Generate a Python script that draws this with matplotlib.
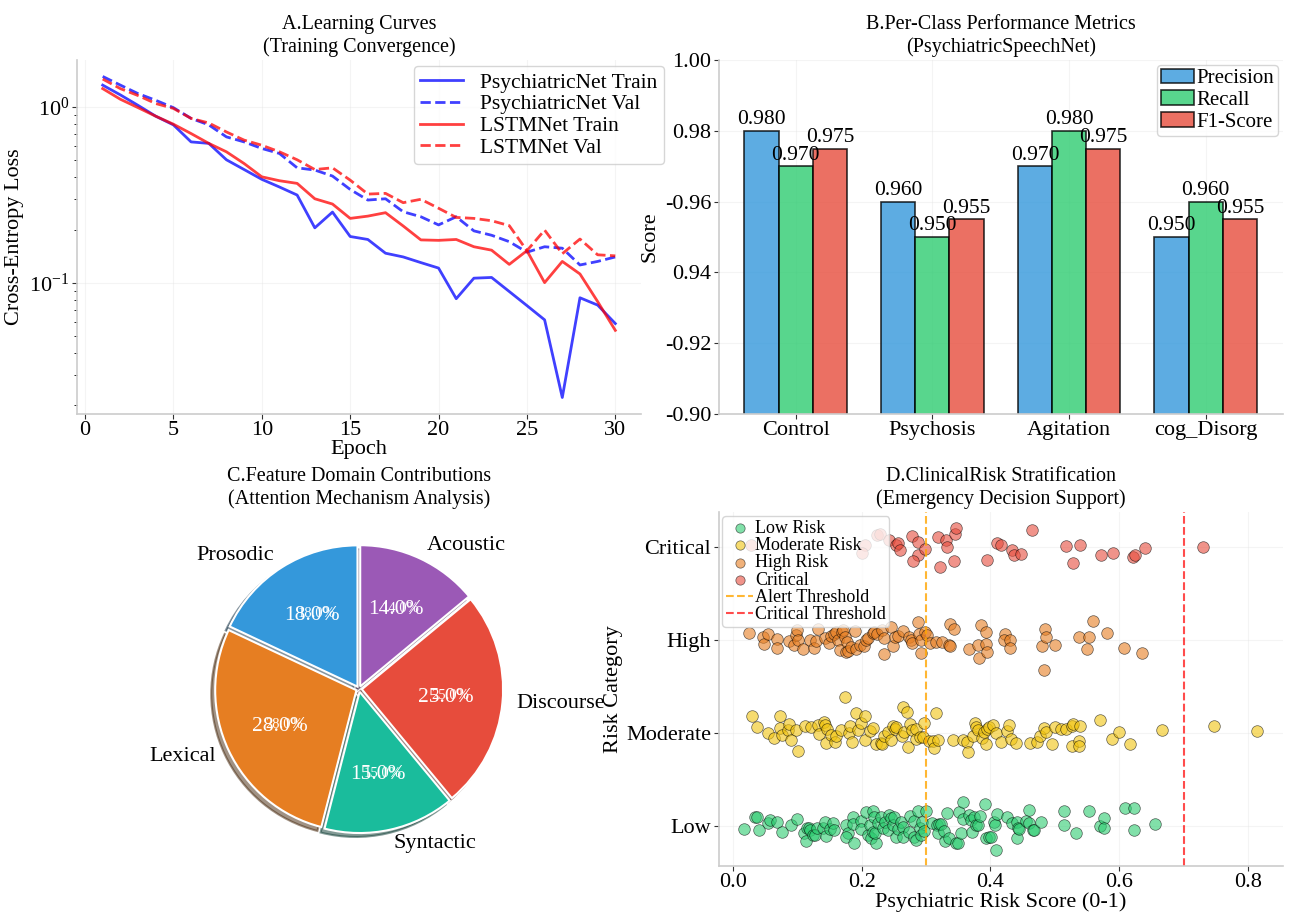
import matplotlib.pyplot as plt
import numpy as np

plt.rcParams['font.family'] = ['Liberation Serif', 'DejaVu Serif']
plt.rcParams['mathtext.fontset'] = 'custom'
plt.rcParams['mathtext.rm'] = 'Liberation Serif'
plt.rcParams['axes.unicode_minus'] = False

# %% data - A. learning curves
epochs = list(range(1, 31))
psy_train = [1.33, 1.17, 1.02, 0.885, 0.79, 0.632, 0.62, 0.50, 0.44, 0.387,
             0.35, 0.315, 0.205, 0.252, 0.183, 0.176, 0.147, 0.14, 0.13, 0.121,
             0.081, 0.106, 0.107, 0.089, 0.074, 0.0614, 0.0222, 0.082, 0.0745, 0.0585]
psy_val = [1.49, 1.33, 1.19, 1.09, 0.99, 0.86, 0.79, 0.675, 0.632, 0.58,
           0.543, 0.45, 0.437, 0.404, 0.339, 0.295, 0.30, 0.253, 0.237, 0.213,
           0.237, 0.197, 0.186, 0.171, 0.149, 0.16, 0.157, 0.126, 0.132, 0.14]
lstm_train = [1.27, 1.105, 0.99, 0.885, 0.797, 0.705, 0.62, 0.555, 0.476, 0.40,
              0.38, 0.367, 0.30, 0.28, 0.232, 0.239, 0.25, 0.21, 0.175, 0.174,
              0.176, 0.16, 0.153, 0.127, 0.152, 0.10, 0.132, 0.112, 0.078, 0.0535]
lstm_val = [1.44, 1.27, 1.16, 1.045, 0.98, 0.86, 0.81, 0.72, 0.647, 0.605,
            0.555, 0.50, 0.44, 0.45, 0.383, 0.319, 0.322, 0.285, 0.298, 0.265,
            0.235, 0.232, 0.225, 0.211, 0.152, 0.199, 0.146, 0.177, 0.144, 0.142]

# %% data - B. per-class metrics
classes = ['Control', 'Psychosis', 'Agitation', 'cog_Disorg']
precision = [0.980, 0.960, 0.970, 0.950]
recall = [0.970, 0.950, 0.980, 0.960]
f1_score = [0.975, 0.955, 0.975, 0.955]
score_ticks = [0.90, 0.92, 0.94, 0.96, 0.98, 1.00]
score_ticklabels = ['-0.90', '-0.92', '0.94', '-0.96', '0.98', '1.00']

# %% data - C. feature domains
domains = ['Prosodic', 'Lexical', 'Syntactic', 'Discourse', 'Acoustic']
domain_share = [18, 28, 15, 25, 14]
domain_colors = ['#3498db', '#e67e22', '#1abc9c', '#e74c3c', '#9b59b6']

# %% data - D. risk stratification (score, vertical jitter)
risk_levels = ['Low', 'Moderate', 'High', 'Critical']
low_score = [0.018, 0.035, 0.038, 0.04, 0.054, 0.058, 0.069, 0.077, 0.091, 0.1,
             0.11, 0.113, 0.115, 0.118, 0.12, 0.125, 0.128, 0.13, 0.14, 0.143,
             0.144, 0.151, 0.156, 0.157, 0.175, 0.179, 0.176, 0.187, 0.188, 0.186,
             0.199, 0.199, 0.207, 0.21, 0.213, 0.215, 0.218, 0.218, 0.22, 0.223,
             0.221, 0.225, 0.23, 0.233, 0.237, 0.241, 0.243, 0.246, 0.248, 0.251,
             0.254, 0.256, 0.261, 0.264, 0.265, 0.273, 0.275, 0.282, 0.282, 0.285,
             0.287, 0.29, 0.292, 0.294, 0.3, 0.297, 0.31, 0.317, 0.319, 0.32,
             0.323, 0.33, 0.328, 0.332, 0.336, 0.347, 0.349, 0.351, 0.355, 0.357,
             0.358, 0.367, 0.37, 0.372, 0.375, 0.378, 0.381, 0.384, 0.391, 0.393,
             0.398, 0.401, 0.406, 0.407, 0.409, 0.411, 0.426, 0.434, 0.442, 0.442,
             0.443, 0.445, 0.456, 0.46, 0.46, 0.466, 0.467, 0.479, 0.514, 0.515,
             0.533, 0.553, 0.57, 0.577, 0.577, 0.609, 0.623, 0.623, 0.655]
low_jit = [-0.03, 0.105, 0.095, -0.04, 0.04, 0.07, 0.05, -0.06, 0.015, 0.075,
           -0.075, -0.16, -0.02, -0.015, -0.04, -0.095, -0.095, -0.02, -0.015, 0.045,
           -0.105, -0.03, 0.04, -0.035, 0.015, -0.07, -0.12, 0.095, -0.175, 0.025,
           0.06, -0.03, 0.15, -0.095, 0.015, -0.13, 0.165, -0.06, 0.105, -0.185,
           -0.075, 0.03, 0.105, -0.015, 0.05, -0.04, 0.12, 0.085, 0.015, 0.095,
           -0.12, -0.03, 0.05, -0.005, -0.11, -0.06, 0.11, 0.06, -0.11, -0.15,
           0.16, -0.02, -0.095, 0.05, 0.165, -0.05, 0.03, 0.015, -0.07, 0.02,
           0.02, -0.16, -0.05, 0.14, -0.13, -0.185, -0.175, 0.15, -0.075, 0.26,
           0.08, 0.12, 0.07, -0.06, 0.095, 0.015, 0.015, 0.11, 0.24, -0.13,
           -0.12, -0.11, 0.05, 0.015, -0.25, 0.13, 0.095, 0.03, 0.05, -0.13,
           -0.015, -0.03, 0.06, 0.03, 0.17, -0.04, -0.045, 0.045, 0.015, 0.16,
           -0.075, 0.165, 0.005, 0.085, -0.015, 0.2, 0.2, -0.045, 0.02]
mod_score = [0.030, 0.038, 0.054, 0.064, 0.073, 0.074, 0.076, 0.085, 0.087, 0.091,
             0.098, 0.101, 0.112, 0.121, 0.132, 0.134, 0.141, 0.143, 0.145, 0.147,
             0.152, 0.158, 0.16, 0.168, 0.174, 0.18, 0.182, 0.185, 0.192, 0.194,
             0.199, 0.206, 0.206, 0.213, 0.217, 0.222, 0.23, 0.231, 0.235, 0.241,
             0.246, 0.249, 0.252, 0.254, 0.263, 0.264, 0.266, 0.271, 0.272, 0.275,
             0.278, 0.284, 0.284, 0.29, 0.295, 0.297, 0.304, 0.311, 0.313, 0.315,
             0.319, 0.342, 0.357, 0.364, 0.365, 0.373, 0.376, 0.378, 0.38, 0.387,
             0.39, 0.393, 0.395, 0.398, 0.404, 0.409, 0.416, 0.426, 0.429, 0.432,
             0.439, 0.461, 0.473, 0.477, 0.483, 0.486, 0.496, 0.501, 0.509, 0.517,
             0.526, 0.528, 0.526, 0.538, 0.538, 0.539, 0.57, 0.589, 0.6, 0.616,
             0.666, 0.747, 0.814]
mod_jit = [0.19, 0.065, 0.0, -0.05, 0.19, 0.055, -0.02, 0.03, 0.1, -0.07,
           0.035, -0.19, 0.075, 0.07, 0.09, -0.007, 0.12, 0.09, -0.11, 0.045,
           -0.02, -0.09, -0.035, 0.035, 0.39, 0.0, 0.08, -0.09, 0.215, 0.035,
           0.11, 0.18, -0.07, 0.02, 0.06, -0.12, -0.11, -0.12, -0.025, 0.01,
           -0.07, 0.08, 0.045, 0.065, -0.025, 0.28, 0.01, 0.23, -0.15, 0.1,
           0.03, -0.06, 0.045, -0.045, -0.045, 0.11, -0.08, -0.08, -0.16, 0.215,
           -0.07, -0.07, -0.07, -0.09, -0.205, -0.025, 0.11, 0.065, 0.03, -0.05,
           0.01, -0.12, 0.045, 0.07, 0.09, 0.0, -0.09, 0.02, 0.09, -0.06,
           -0.11, -0.1, -0.09, -0.025, 0.055, 0.01, -0.115, 0.07, 0.045, 0.045,
           0.08, 0.095, -0.135, -0.085, -0.14, 0.08, 0.145, -0.06, 0.01, -0.115,
           0.035, 0.075, 0.02]
high_score = [0.025, 0.047, 0.048, 0.054, 0.069, 0.068, 0.088, 0.095, 0.098, 0.1,
              0.101, 0.109, 0.12, 0.126, 0.129, 0.133, 0.143, 0.149, 0.152, 0.157,
              0.16, 0.163, 0.166, 0.169, 0.171, 0.174, 0.175, 0.177, 0.179, 0.183,
              0.189, 0.192, 0.197, 0.203, 0.207, 0.21, 0.217, 0.22, 0.224, 0.232,
              0.234, 0.234, 0.246, 0.249, 0.252, 0.257, 0.265, 0.274, 0.277, 0.279,
              0.287, 0.289, 0.292, 0.293, 0.299, 0.302, 0.306, 0.315, 0.325, 0.335,
              0.337, 0.337, 0.343, 0.366, 0.38, 0.382, 0.386, 0.393, 0.393, 0.394,
              0.423, 0.421, 0.43, 0.43, 0.48, 0.484, 0.486, 0.483, 0.501, 0.537,
              0.553, 0.55, 0.56, 0.581, 0.607, 0.636]
high_jit = [0.08, 0.03, -0.04, 0.07, 0.01, -0.08, -0.007, -0.05, 0.06, 0.11,
            0.0, -0.1, 0.0, -0.08, -0.007, 0.125, 0.02, -0.035, 0.04, 0.07,
            0.09, 0.0, -0.11, 0.09, 0.11, 0.035, -0.125, -0.02, -0.12, -0.07,
            0.1, -0.1, -0.05, -0.065, 0.0, 0.02, 0.08, 0.09, 0.07, 0.11,
            0.02, -0.15, 0.14, -0.065, 0.03, 0.05, 0.1, 0.035, 0.0, -0.035,
            0.2, 0.07, 0.0, -0.14, 0.09, 0.06, -0.035, -0.02, -0.02, -0.05,
            -0.065, 0.17, 0.125, -0.09, -0.05, -0.19, 0.16, 0.09, -0.04, -0.125,
            0.065, 0.007, 0.0, -0.08, -0.065, 0.125, 0.035, -0.32, -0.05, 0.03,
            0.03, -0.1, 0.21, 0.08, -0.08, -0.14]
crit_score = [0.028, 0.205, 0.201, 0.224, 0.228, 0.242, 0.254, 0.257, 0.26, 0.279,
              0.287, 0.287, 0.28, 0.299, 0.318, 0.331, 0.333, 0.321, 0.345, 0.347,
              0.343, 0.394, 0.411, 0.416, 0.433, 0.436, 0.448, 0.465, 0.518, 0.539,
              0.528, 0.571, 0.59, 0.621, 0.624, 0.64, 0.73]
crit_jit = [0.02, 0.025, -0.064, 0.13, 0.14, 0.08, 0.02, 0.04, -0.03, 0.12,
            0.05, -0.08, -0.15, -0.02, 0.11, 0.08, 0.0, -0.21, 0.14, 0.2,
            -0.15, -0.14, 0.04, 0.025, -0.035, -0.08, -0.07, 0.18, 0.007, 0.025,
            -0.17, -0.08, -0.064, -0.107, -0.09, -0.01, 0.0]
alert_threshold = 0.3
critical_threshold = 0.7

# %% figure
fig, axes = plt.subplots(2, 2, figsize=(12.93, 9.15), dpi=100)
fig.subplots_adjust(left=0.0596, right=0.992, bottom=0.054, top=0.934,
                    wspace=0.138, hspace=0.28)
ax_a, ax_b = axes[0]
ax_c, ax_d = axes[1]


def style_axes(ax):
    for s in ['top', 'right']:
        ax.spines[s].set_visible(False)
    for s in ['left', 'bottom']:
        ax.spines[s].set_color('#cccccc')
        ax.spines[s].set_linewidth(1.2)
    ax.grid(True, alpha=0.3, color='#dddddd')
    ax.set_axisbelow(True)
    ax.tick_params(labelsize=16, colors='#333333', labelcolor='black', pad=2)


# A. learning curves
ax_a.plot(epochs, psy_train, color='blue', alpha=0.75, lw=2, label='PsychiatricNet Train')
ax_a.plot(epochs, psy_val, color='blue', alpha=0.75, lw=2, ls='--', label='PsychiatricNet Val')
ax_a.plot(epochs, lstm_train, color='red', alpha=0.75, lw=2, label='LSTMNet Train')
ax_a.plot(epochs, lstm_val, color='red', alpha=0.75, lw=2, ls='--', label='LSTMNet Val')
ax_a.set_yscale('log')
style_axes(ax_a)
ax_a.set_xlabel('Epoch', fontsize=16, labelpad=0)
ax_a.set_ylabel('Cross-Entropy Loss', fontsize=16)
ax_a.set_title('A.Learning Curves\n(Training Convergence)', fontsize=14.5)
ax_a.legend(fontsize=15.5, loc='upper right', bbox_to_anchor=(1.045, 0.99),
            borderpad=0.3, labelspacing=0.08, handlelength=2.0, borderaxespad=0.1)

# B. per-class metrics
x = np.arange(len(classes))
w = 0.25
bars = [
    ax_b.bar(x - w, precision, w, color='#3498db', alpha=0.8, edgecolor='black', lw=1.2, label='Precision'),
    ax_b.bar(x, recall, w, color='#2ecc71', alpha=0.8, edgecolor='black', lw=1.2, label='Recall'),
    ax_b.bar(x + w, f1_score, w, color='#e74c3c', alpha=0.8, edgecolor='black', lw=1.2, label='F1-Score'),
]
for bc in bars:
    for rect in bc:
        h = rect.get_height()
        ax_b.text(rect.get_x() + rect.get_width() / 2, h + 0.0005, f'{h:.3f}',
                  ha='center', va='bottom', fontsize=15.5)
ax_b.set_ylim(0.90, 1.00)
ax_b.set_yticks(score_ticks)
ax_b.set_yticklabels(score_ticklabels)
ax_b.set_xticks(x)
ax_b.set_xticklabels(classes)
style_axes(ax_b)
ax_b.set_ylabel('Score', fontsize=16)
ax_b.set_title('B.Per-Class Performance Metrics\n(PsychiatricSpeechNet)', fontsize=14.5)
ax_b.legend(fontsize=15, loc='upper right', borderpad=0.2, labelspacing=0.1,
            handlelength=1.6, handletextpad=0.1, borderaxespad=0.2)

# C. feature domains
wedges, texts, autotexts = ax_c.pie(domain_share, labels=domains, colors=domain_colors,
                                    autopct='%1.1f%%', startangle=90, shadow=True,
                                    explode=[0.02] * len(domain_share),
                                    wedgeprops=dict(edgecolor='white', linewidth=1.5),
                                    textprops=dict(fontsize=16))
for t in autotexts:
    t.set_color('white')
    t.set_fontsize(15.5)
    px, py = t.get_position()
    ax_c.text(px + 0.03, py + 0.01, t.get_text(), color='white', fontsize=10.5,
              ha='center', va='center')
ax_c.set_title('C.Feature Domain Contributions\n(Attention Mechanism Analysis)', fontsize=14.5)

# D. risk stratification
risk_data = [(low_score, low_jit, '#2ecc71', 'Low Risk'),
             (mod_score, mod_jit, '#f1c40f', 'Moderate Risk'),
             (high_score, high_jit, '#e67e22', 'High Risk'),
             (crit_score, crit_jit, '#e74c3c', 'Critical')]
for i, (sc, jt, col, lab) in enumerate(risk_data):
    ax_d.scatter(sc, i + np.array(jt), s=70, color=col, alpha=0.6,
                 edgecolors='black', linewidths=0.5, label=lab)
ax_d.axvline(alert_threshold, color='orange', ls='--', lw=1.5, alpha=0.8, label='Alert Threshold')
ax_d.axvline(critical_threshold, color='red', ls='--', lw=1.5, alpha=0.7, label='Critical Threshold')
ax_d.set_yticks(range(len(risk_levels)))
ax_d.set_yticklabels(risk_levels)
style_axes(ax_d)
ax_d.set_xlabel('Psychiatric Risk Score (0-1)', fontsize=16, labelpad=0)
ax_d.set_ylabel('Risk Category', fontsize=16, labelpad=2)
ax_d.set_title('D.ClinicalRisk Stratification\n(Emergency Decision Support)', fontsize=14.5)
ax_d.legend(fontsize=13, loc='upper left', borderpad=0.2, labelspacing=0.02,
            handlelength=1.5, handletextpad=0.1, borderaxespad=0.2, markerscale=0.8)

plt.savefig('out.png', dpi=100)
